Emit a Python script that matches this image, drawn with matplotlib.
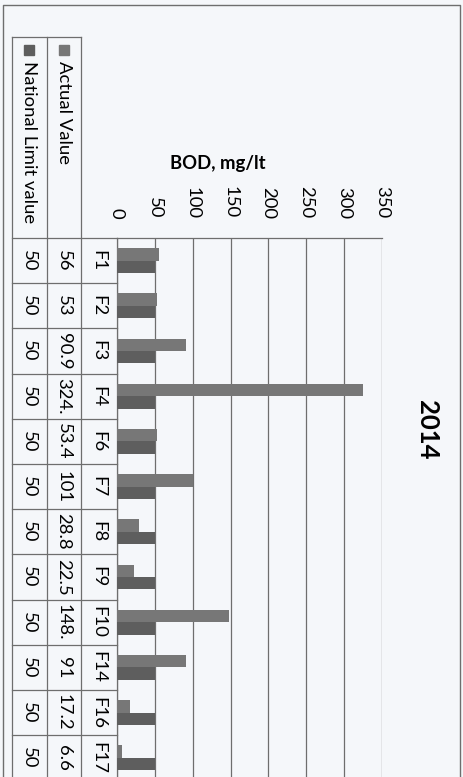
import numpy as np
import matplotlib
matplotlib.use('Agg')
import matplotlib.pyplot as plt
from matplotlib.lines import Line2D

plt.rcParams['font.family'] = ['Lato', 'DejaVu Sans']

CATEGORIES = ['F1', 'F2', 'F3', 'F4', 'F6', 'F7', 'F8', 'F9', 'F10', 'F14', 'F16', 'F17']
ACTUAL = [56, 53, 90.9, 324.5, 53.4, 101, 28.8, 22.5, 148.5, 91, 17.2, 6.6]
LIMIT = [50, 50, 50, 50, 50, 50, 50, 50, 50, 50, 50, 50]
SERIES = ['Actual Value', 'National Limit value']
TICKS = [0, 50, 100, 150, 200, 250, 300, 350]
TITLE = '2014'
YLABEL = 'BOD, mg/lt'

W, H = 463, 777
ROW = 45.2            # pixel height of one category
TOP = 238             # pixel y of plot top
BOTTOM = TOP + ROW * len(CATEGORIES)
HEAD = 37             # pixel y of table header top

ACT_COLOR = '#777777'
LIM_COLOR = '#5e5e5e'
LINE = '#6e6e6e'
BG = '#f5f7fa'
FS = 13.3


def cell_text(v):
    # excel data table cuts long numbers in narrow cells
    return ('%g' % v)[:4]


def plot_chart():
    fig = plt.figure(figsize=(W / 100, H / 100), dpi=100, facecolor=BG)

    # bars, drawn sideways (the scanned page is turned)
    ax = fig.add_axes([117 / W, (H - BOTTOM) / H, 265 / W, (BOTTOM - TOP) / H])
    ax.set_facecolor('none')
    y = np.arange(len(CATEGORIES))
    w = 0.275
    ax.barh(y - w / 2, ACTUAL, height=w, color=ACT_COLOR, zorder=3)
    ax.barh(y + w / 2, LIMIT, height=w, color=LIM_COLOR, zorder=3)
    ax.set_xlim(0, 350)
    ax.set_ylim(len(CATEGORIES) - 0.5, -0.5)
    ax.set_yticks([])
    ax.xaxis.tick_top()
    ax.set_xticks(TICKS)
    ax.set_xticklabels([str(t) for t in TICKS], rotation=-90, fontsize=FS)
    ax.tick_params(axis='x', length=0, pad=14)
    ax.grid(axis='x', color=LINE, lw=0.9, zorder=1)
    for s in ['right', 'bottom']:
        ax.spines[s].set_visible(False)
    for s in ['top', 'left']:
        ax.spines[s].set_color(LINE)
        ax.spines[s].set_linewidth(0.9)

    # data table on the left
    tax = fig.add_axes([12 / W, (H - BOTTOM) / H, 105 / W, (BOTTOM - HEAD) / H])
    tax.axis('off')
    tax.set_xlim(12, 117)
    head_y = -0.5 - (TOP - HEAD) / ROW
    tax.set_ylim(len(CATEGORIES) - 0.5, head_y)
    n = len(CATEGORIES)
    for k in range(n + 1):
        tax.plot([12, 117], [k - 0.5, k - 0.5], color=LINE, lw=0.9, clip_on=False)
    tax.plot([12, 81], [head_y, head_y], color=LINE, lw=0.9, clip_on=False)
    for xv in [12, 47, 81]:
        tax.plot([xv, xv], [head_y, n - 0.5], color=LINE, lw=0.9, clip_on=False)

    for i in range(n):
        tax.text(98, i, CATEGORIES[i], rotation=-90, ha='center', va='center', fontsize=FS)
        tax.text(63.5, i, cell_text(ACTUAL[i]), rotation=-90, ha='center', va='center', fontsize=FS)
        tax.text(29, i, cell_text(LIMIT[i]), rotation=-90, ha='center', va='center', fontsize=FS)

    key_y = head_y + (50 - HEAD) / ROW
    text_y = head_y + (61 - HEAD) / ROW
    for xv, name, c in [(63.5, SERIES[0], ACT_COLOR), (29, SERIES[1], LIM_COLOR)]:
        tax.plot([xv], [key_y], marker='s', ms=6.5, color=c, clip_on=False)
        tax.text(xv, text_y, name, rotation=-90, ha='center', va='top', fontsize=FS)

    fig.text(218 / W, 1 - 163 / H, YLABEL, ha='center', va='center', fontsize=FS, fontweight='bold')
    fig.text(427 / W, 1 - 430 / H, TITLE, rotation=-90, ha='center', va='center', fontsize=18.5,
             fontweight='bold')

    # page frame, cut off at the bottom like the scan
    fx = [3 / W, 3 / W, 460 / W, 460 / W]
    fy = [0, 1 - 5 / H, 1 - 5 / H, 0]
    fig.lines.append(Line2D(fx, fy, transform=fig.transFigure, color='#6e6e6e', lw=1.0))

    fig.savefig('out.png', dpi=100, facecolor=BG)


if __name__ == '__main__':
    plot_chart()
